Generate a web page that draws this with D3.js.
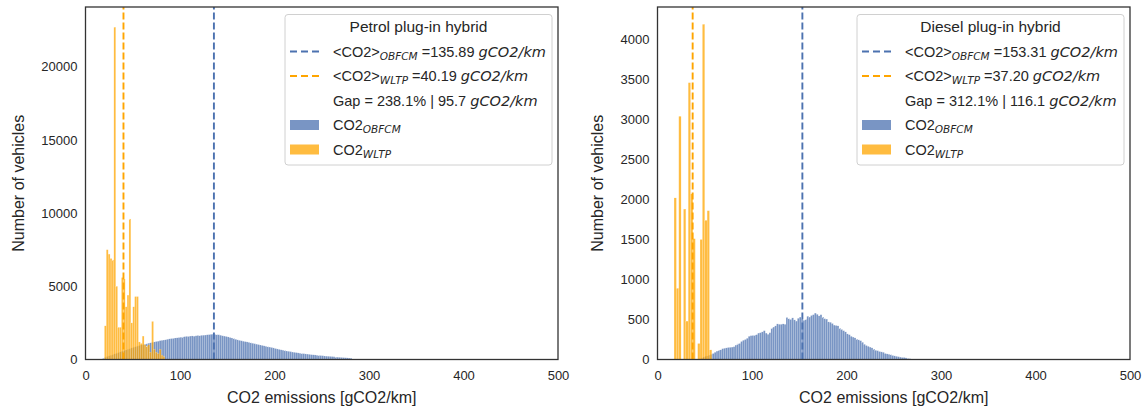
<!DOCTYPE html>
<html><head><meta charset="utf-8">
<script src="https://cdn.jsdelivr.net/npm/d3@7"></script>
<style>
body{margin:0;background:#fff}
svg{display:block}
text{font-family:"Liberation Sans",Arial,sans-serif;fill:#262626}
.it{font-family:"DejaVu Sans",sans-serif;font-style:italic}
</style>
</head><body><svg id="c" width="1147" height="408"></svg>
<script>
// ---------- data ----------
const xTicks = [0, 100, 200, 300, 400, 500];
const petrolYTicks = [0, 5000, 10000, 15000, 20000];
const dieselYTicks = [0, 500, 1000, 1500, 2000, 2500, 3000, 3500, 4000];

// Petrol plug-in hybrid, OBFCM (bins of 2 gCO2/km starting at 14)
const petrolObfcmStart = 14, petrolObfcmBin = 2;
const petrolObfcm = [10,30,70,140,200,250,290,340,380,420,470,520,560,610,650,700,740,790,830,870,
  910,950,990,1020,1050,1080,1110,1140,1170,1200,1230,1250,1290,1310,1330,1360,1380,1410,1430,1440,
  1470,1480,1500,1520,1540,1560,1580,1570,1600,1610,1590,1620,1640,1630,1650,1660,1670,1690,1700,1720,
  1730,1710,1700,1690,1660,1620,1600,1570,1540,1500,1470,1430,1380,1340,1310,1280,1250,1220,1200,1170,
  1140,1110,1080,1050,1020,990,960,930,900,870,850,820,790,750,720,690,660,640,610,580,
  560,540,510,490,470,450,430,410,400,380,370,350,330,320,310,290,280,270,260,240,
  230,220,210,200,190,170,160,150,140,130,120,110,100,90];
// Petrol plug-in hybrid, WLTP (bins of 2 starting at 20)
const petrolWltpStart = 20, petrolWltpBin = 2;
const petrolWltp = [2300,7500,7200,6900,6800,22700,5000,2200,2200,5600,5500,3600,4400,9600,2500,3600,
  4300,4300,1200,1100,1600,1000,900,1000,500,2600,700,500,400,700,300,200];

// Diesel plug-in hybrid, OBFCM (bins of 2 starting at 44)
const dieselObfcmStart = 44, dieselObfcmBin = 2;
const dieselObfcm = [10,20,30,40,45,55,65,75,90,105,115,120,135,140,145,150,152,155,160,180,
  195,200,225,240,250,265,290,298,300,305,310,330,335,345,360,330,315,335,390,405,
  420,445,440,440,445,440,525,510,500,520,495,480,515,530,505,490,500,540,530,550,
  560,580,565,545,560,530,510,505,470,465,450,430,425,420,390,375,360,345,320,310,
  290,280,270,255,245,235,215,190,175,165,155,145,130,115,110,100,95,90,75,70,
  65,60,50,45,40,35,30,25,25,20,15,10,5];
// Diesel plug-in hybrid, WLTP (bins of 2.5 starting at 17.5)
const dieselWltpStart = 17.5, dieselWltpBin = 2.5;
const dieselWltp = [2020,890,3040,0,1880,480,3460,2070,1510,0,200,1500,4190,1740,1860,120];

const petrolMeans = {obfcm: "135.89", wltp: "40.19", gap: "238.1%", gapAbs: "95.7"};
const dieselMeans = {obfcm: "153.31", wltp: "37.20", gap: "312.1%", gapAbs: "116.1"};
const titles = ["Petrol plug-in hybrid", "Diesel plug-in hybrid"];

// ---------- drawing ----------
const BLUE = "#4C72B0", ORANGE = "#FFA500";
const svg = d3.select("#c");

function toBins(start, w, arr){ return arr.map((v,i)=>({x0:start+i*w, x1:start+(i+1)*w, v})); }

const panels = [
  {left:85.5, right:558, yMax:24080, yTicks:petrolYTicks, ylabX:18,
   obfcm:toBins(petrolObfcmStart,petrolObfcmBin,petrolObfcm),
   wltp:toBins(petrolWltpStart,petrolWltpBin,petrolWltp), m:petrolMeans, title:titles[0]},
  {left:657.5, right:1130, yMax:4406, yTicks:dieselYTicks, ylabX:597,
   obfcm:toBins(dieselObfcmStart,dieselObfcmBin,dieselObfcm),
   wltp:toBins(dieselWltpStart,dieselWltpBin,dieselWltp), m:dieselMeans, title:titles[1]}
];
const TOP = 7, BOT = 359.5;

panels.forEach(p=>{
  const x = d3.scaleLinear().domain([0,500]).range([p.left,p.right]);
  const y = d3.scaleLinear().domain([0,p.yMax]).range([BOT,TOP]);
  const g = svg.append("g");

  function bars(data,color){
    g.append("g").selectAll("rect").data(data.filter(d=>d.v>0)).join("rect")
      .attr("x",d=>x(d.x0)).attr("width",d=>x(d.x1)-x(d.x0))
      .attr("y",d=>y(d.v)).attr("height",d=>BOT-y(d.v))
      .attr("fill",color).attr("fill-opacity",0.75)
      .attr("stroke","#fff").attr("stroke-width",0.25).attr("stroke-opacity",0.6);
  }
  bars(p.obfcm,BLUE);
  bars(p.wltp,ORANGE);

  // mean lines
  [[+p.m.obfcm,BLUE],[+p.m.wltp,ORANGE]].forEach(([v,c])=>{
    g.append("line").attr("x1",x(v)).attr("x2",x(v)).attr("y1",BOT).attr("y2",TOP)
      .attr("stroke",c).attr("stroke-width",1.9).attr("stroke-dasharray","7,3");
  });

  // axes (no tick marks)
  const fmt = d3.format("d");
  const xa = d3.axisBottom(x).tickValues(xTicks).tickFormat(fmt).tickSize(0).tickPadding(11);
  const xg = g.append("g").attr("transform",`translate(0,${BOT})`).call(xa);
  xg.select(".domain").remove();
  xg.selectAll("text").attr("font-size",13).attr("font-family","Liberation Sans, Arial, sans-serif").attr("fill","#262626");
  const ya = d3.axisLeft(y).tickValues(p.yTicks).tickFormat(fmt).tickSize(0).tickPadding(8);
  const yg = g.append("g").attr("transform",`translate(${p.left},0)`).call(ya);
  yg.select(".domain").remove();
  yg.selectAll("text").attr("font-size",13).attr("font-family","Liberation Sans, Arial, sans-serif").attr("fill","#262626");

  g.append("rect").attr("x",p.left).attr("y",TOP).attr("width",p.right-p.left).attr("height",BOT-TOP)
    .attr("fill","none").attr("stroke","#333").attr("stroke-width",1.3);

  g.append("text").attr("x",(p.left+p.right)/2).attr("y",403).attr("text-anchor","middle")
    .attr("font-size",16).text("CO2 emissions [gCO2/km]");
  g.append("text").attr("transform",`translate(${p.ylabX},${(TOP+BOT)/2}) rotate(-90)`)
    .attr("text-anchor","middle").attr("dy","0.35em").attr("font-size",16).text("Number of vehicles");

  // legend
  const lw = 267, lx = p.right-6-lw, ly = 14.5;
  const lg = g.append("g");
  lg.append("rect").attr("x",lx).attr("y",ly).attr("width",lw).attr("height",150.5).attr("rx",3)
    .attr("fill","#fff").attr("fill-opacity",0.85).attr("stroke","#d0d0d0").attr("stroke-width",1);
  lg.append("text").attr("x",lx+lw/2).attr("y",32).attr("text-anchor","middle").attr("font-size",15.5).text(p.title);
  const hx = lx+5, tx = lx+48, rows=[51.5,76,100.5,125,149.5];
  [[BLUE,0],[ORANGE,1]].forEach(([c,i])=>{
    lg.append("line").attr("x1",hx).attr("x2",hx+29).attr("y1",rows[i]).attr("y2",rows[i])
      .attr("stroke",c).attr("stroke-width",1.9).attr("stroke-dasharray","7,4");
    lg.append("rect").attr("x",hx).attr("y",rows[i+3]-5).attr("width",29).attr("height",10)
      .attr("fill",c).attr("fill-opacity",0.75);
  });
  function row(yc, parts){
    const t = lg.append("text").attr("x",tx).attr("y",yc+5).attr("font-size",14.5);
    let shifted=false;
    parts.forEach(([s,kind])=>{
      const ts=t.append("tspan").text(s);
      if(kind==="sub"){ ts.attr("class","it").attr("font-size",10.5).attr("dy",3); shifted=true; }
      else { if(shifted){ ts.attr("dy",-3); shifted=false; } if(kind==="it") ts.attr("class","it"); }
    });
  }
  row(rows[0],[["<CO2>"],["OBFCM","sub"],[" =" + p.m.obfcm + " "],["gCO2/km","it"]]);
  row(rows[1],[["<CO2>"],["WLTP","sub"],[" =" + p.m.wltp + " "],["gCO2/km","it"]]);
  row(rows[2],[["Gap = " + p.m.gap + " | " + p.m.gapAbs + " "],["gCO2/km","it"]]);
  row(rows[3],[["CO2"],["OBFCM","sub"]]);
  row(rows[4],[["CO2"],["WLTP","sub"]]);
});
</script>
</body></html>
